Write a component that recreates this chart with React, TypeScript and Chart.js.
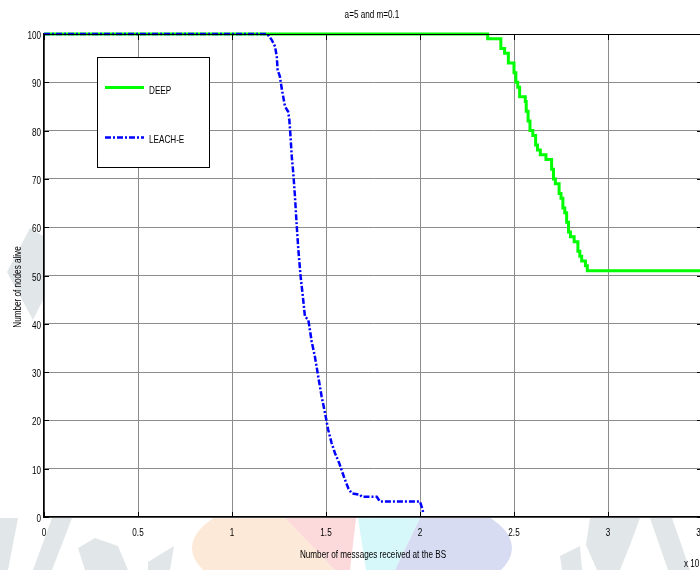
import React, { useEffect, useRef } from "react";
import { Chart, registerables } from "chart.js";

Chart.register(...registerables);

const titleText = "a=5 and m=0.1";
const xTitle = "Number of messages received at the BS";
const yTitle = "Number of nodes alive";
const xExponent = "x 10";
const seriesNames = ["DEEP", "LEACH-E"];

// DEEP (stepped: value becomes y at x)
const deepX = [0, 2.36, 2.43, 2.45, 2.47, 2.5, 2.51, 2.52, 2.53, 2.56, 2.565, 2.575, 2.585, 2.6, 2.615, 2.625, 2.64, 2.67, 2.7, 2.71, 2.72, 2.74, 2.75, 2.76, 2.77, 2.78, 2.79, 2.8, 2.82, 2.84, 2.85, 2.86, 2.88, 2.89, 3.5];
const deepY = [100, 99, 97, 96, 94, 92, 90, 89, 87, 86, 84, 82, 80, 79, 77, 76, 75, 74, 72, 70, 69, 67, 66, 64, 63, 61, 59, 58, 57, 55, 54, 53, 52, 51, 51];

// LEACH-E
const leachX = [0, 1.188, 1.211, 1.229, 1.238, 1.243, 1.255, 1.264, 1.282, 1.299, 1.305, 1.309, 1.318, 1.326, 1.335, 1.344, 1.353, 1.365, 1.379, 1.388, 1.406, 1.424, 1.441, 1.459, 1.477, 1.495, 1.512, 1.53, 1.548, 1.571, 1.583, 1.601, 1.619, 1.637, 1.681, 1.69, 1.77, 1.787, 2.0, 2.009, 2.018];
const leachY = [100, 100, 98.8, 97.4, 95.3, 92.5, 91.2, 88.8, 85, 83.9, 82.2, 80.1, 74.6, 71.2, 66.3, 60.5, 55.3, 49.8, 44.9, 41.5, 40.8, 36.3, 33.2, 29, 24.9, 21.5, 18, 15.3, 13.2, 11.1, 9.7, 7.7, 5.9, 4.9, 4.6, 4.2, 4.2, 3.2, 3.2, 2.1, 0.8];

const xTicks = [0, 0.5, 1, 1.5, 2, 2.5, 3, 3.5];
const yTicks = [0, 10, 20, 30, 40, 50, 60, 70, 80, 90, 100];

const FONT = '"Liberation Sans", Arial, sans-serif';
const GREEN = "#00ff00";
const BLUE = "#0000ff";
const DASH = [6, 2, 2, 2];
const SQUEEZE = 0.74;

function narrowText(ctx: any, text: string, x: number, y: number, align: string) {
  ctx.save();
  ctx.translate(x, y);
  ctx.scale(SQUEEZE, 1);
  ctx.textAlign = align;
  ctx.textBaseline = "middle";
  ctx.fillText(text, 0, 0);
  ctx.restore();
}

function drawWatermark(ctx: any) {
  ctx.save();
  const poly = (pts: number[][], color: string) => {
    ctx.fillStyle = color;
    ctx.beginPath();
    pts.forEach((p, i) => (i ? ctx.lineTo(p[0], p[1]) : ctx.moveTo(p[0], p[1])));
    ctx.closePath();
    ctx.fill();
  };
  // pastel lens under the x axis
  ctx.save();
  ctx.beginPath();
  ctx.ellipse(352, 548, 160, 60, 0, 0, Math.PI * 2);
  ctx.clip();
  poly([[180, 518], [285, 518], [335, 570], [180, 570]], "#fde9d7");
  poly([[285, 518], [356, 518], [350, 570], [335, 570]], "#fcdadb");
  poly([[358, 518], [420, 518], [395, 570], [366, 570]], "#d6f8fa");
  poly([[420, 518], [520, 518], [520, 570], [395, 570]], "#d7dcf3");
  ctx.restore();
  // grey leaf shapes
  const g = "#e1e6e9";
  poly([[7, 272], [30, 228], [43, 236], [43, 300], [33, 320]], g);
  poly([[0, 518], [18, 518], [8, 570], [0, 570]], g);
  poly([[52, 518], [72, 518], [52, 570], [33, 570]], g);
  poly([[78, 548], [95, 538], [118, 546], [128, 570], [85, 570]], g);
  poly([[148, 562], [174, 546], [170, 570], [148, 570]], g);
  poly([[560, 556], [580, 546], [582, 570], [562, 570]], g);
  poly([[590, 518], [640, 518], [630, 545], [620, 570], [597, 570], [586, 545]], g);
  poly([[650, 518], [672, 518], [690, 570], [668, 570]], g);
  ctx.restore();
}

const decorPlugin = {
  id: "decor",
  beforeDraw(chart: any) {
    const { ctx, width, height, chartArea: a } = chart;
    ctx.save();
    ctx.fillStyle = "#fff";
    ctx.fillRect(0, 0, width, height);
    drawWatermark(ctx);
    ctx.fillStyle = "#fff";
    ctx.fillRect(a.left, a.top, a.right - a.left, a.bottom - a.top);
    ctx.restore();
  },
  afterDraw(chart: any) {
    const { ctx, chartArea: a, scales } = chart;
    const xs = scales.x;
    const ys = scales.y;
    ctx.save();
    // top and right border
    ctx.strokeStyle = "#000";
    ctx.lineWidth = 1;
    ctx.beginPath();
    ctx.moveTo(a.left, a.top + 0.5);
    ctx.lineTo(a.right, a.top + 0.5);
    ctx.lineTo(a.right, a.bottom);
    ctx.stroke();
    // inward ticks
    ctx.beginPath();
    xs.ticks.forEach((t: any) => {
      const px = Math.round(xs.getPixelForValue(t.value)) + 0.5;
      ctx.moveTo(px, a.bottom);
      ctx.lineTo(px, a.bottom - 5);
      ctx.moveTo(px, a.top);
      ctx.lineTo(px, a.top + 6);
    });
    ys.ticks.forEach((t: any) => {
      const py = Math.round(ys.getPixelForValue(t.value)) + 0.5;
      ctx.moveTo(a.left, py);
      ctx.lineTo(a.left + 5, py);
      ctx.moveTo(a.right, py);
      ctx.lineTo(a.right - 5, py);
    });
    ctx.stroke();

    // tick labels from the scales
    ctx.fillStyle = "#000";
    ctx.font = "11px " + FONT;
    xs.ticks.forEach((t: any) => {
      narrowText(ctx, String(t.label ?? t.value), xs.getPixelForValue(t.value), 533, "center");
    });
    ys.ticks.forEach((t: any) => {
      narrowText(ctx, String(t.label ?? t.value), a.left - 3, ys.getPixelForValue(t.value) + 2, "right");
    });

    // titles
    narrowText(ctx, titleText, (a.left + a.right) / 2 - 1, 15, "center");
    narrowText(ctx, xTitle, (a.left + a.right) / 2, 555, "center");
    narrowText(ctx, xExponent, 684, 564, "left");
    ctx.save();
    ctx.translate(18, 287);
    ctx.rotate(-Math.PI / 2);
    narrowText(ctx, yTitle, 0, 0, "center");
    ctx.restore();

    // legend
    const lx = 97.5, ly = 57.5, lw = 112, lh = 110;
    ctx.fillStyle = "#fff";
    ctx.fillRect(lx, ly, lw, lh);
    ctx.strokeStyle = "#000";
    ctx.lineWidth = 1;
    ctx.strokeRect(lx, ly, lw, lh);
    ctx.lineWidth = 3;
    ctx.strokeStyle = GREEN;
    ctx.beginPath();
    ctx.moveTo(105, 87.5);
    ctx.lineTo(144, 87.5);
    ctx.stroke();
    ctx.lineWidth = 2.5;
    ctx.strokeStyle = BLUE;
    ctx.setLineDash(DASH);
    ctx.beginPath();
    ctx.moveTo(105, 137.5);
    ctx.lineTo(144, 137.5);
    ctx.stroke();
    ctx.setLineDash([]);
    ctx.fillStyle = "#000";
    narrowText(ctx, seriesNames[0], 149, 91, "left");
    narrowText(ctx, seriesNames[1], 149, 140, "left");
    ctx.restore();
  },
};

export default function App() {
  const ref = useRef<HTMLCanvasElement>(null);
  useEffect(() => {
    if (!ref.current) return;
    const chart = new Chart(ref.current, {
      type: "line",
      data: {
        datasets: [
          {
            label: seriesNames[0],
            data: deepX.map((x, i) => ({ x, y: deepY[i] })),
            borderColor: GREEN,
            borderWidth: 3,
            pointRadius: 0,
            stepped: true,
            order: 2,
            clip: 4,
          },
          {
            label: seriesNames[1],
            data: leachX.map((x, i) => ({ x, y: leachY[i] })),
            borderColor: BLUE,
            borderWidth: 2.5,
            borderDash: DASH,
            pointRadius: 0,
            tension: 0,
            order: 1,
            clip: 4,
          },
        ],
      },
      options: {
        animation: false,
        responsive: false,
        devicePixelRatio: 1,
        layout: { padding: { top: 34, right: 10, left: 0, bottom: 0 } },
        plugins: { legend: { display: false }, title: { display: false }, tooltip: { enabled: false } },
        scales: {
          x: {
            type: "linear",
            min: 0,
            max: 3.5,
            afterBuildTicks: (s: any) => {
              s.ticks = xTicks.map((v) => ({ value: v }));
            },
            afterFit: (s: any) => {
              s.height = 53;
            },
            ticks: { display: false, callback: (v: any) => String(v) },
            grid: { color: "#8c8c8c", lineWidth: 1, drawTicks: false },
            border: { color: "#000", width: 1.5 },
          },
          y: {
            type: "linear",
            min: 0,
            max: 100,
            afterBuildTicks: (s: any) => {
              s.ticks = yTicks.map((v) => ({ value: v }));
            },
            afterFit: (s: any) => {
              s.width = 44;
            },
            ticks: { display: false, callback: (v: any) => String(v) },
            grid: { color: "#8c8c8c", lineWidth: 1, drawTicks: false },
            border: { color: "#000", width: 1.5 },
          },
        },
      },
      plugins: [decorPlugin],
    });
    return () => chart.destroy();
  }, []);
  return (
    <div style={{ position: "fixed", left: 0, top: 0, width: 700, height: 570, overflow: "hidden", background: "#fff" }}>
      <canvas ref={ref} width={712} height={570} style={{ width: 712, height: 570, display: "block" }} />
    </div>
  );
}
